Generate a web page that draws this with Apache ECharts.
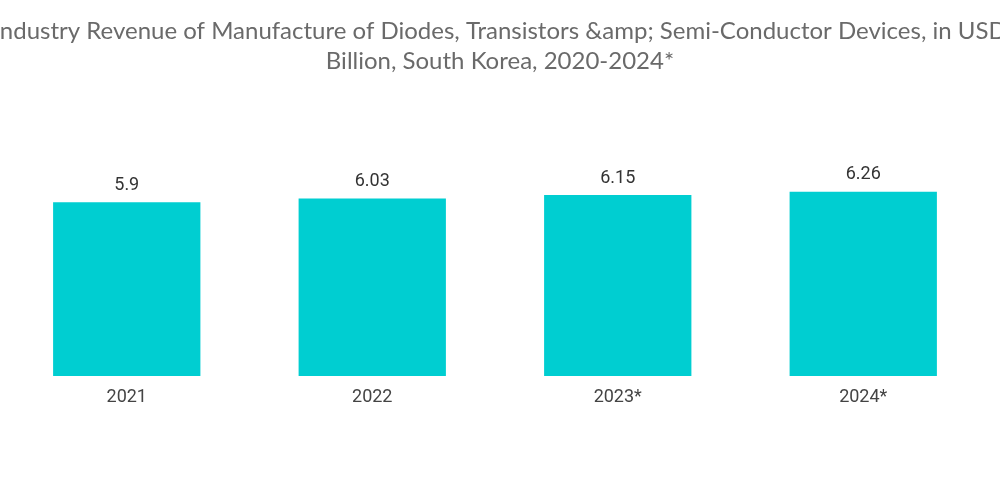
<!DOCTYPE html>
<html>
<head>
  <meta charset="utf-8">
  <title>South Korea semiconductor devices revenue</title>
  <script src="https://cdn.jsdelivr.net/npm/echarts@6/dist/echarts.min.js"></script>
  <style>
    body { margin: 0; padding: 0; background: #fff; }
    #main { width: 1000px; height: 504px; }
  </style>
</head>
<body>
  <div id="main"></div>
  <script>
    var years = ['2021', '2022', '2023*', '2024*'];
    var revenue = [5.9, 6.03, 6.15, 6.26];
    var titleLines = [
      'Industry Revenue of Manufacture of Diodes, Transistors &amp; Semi-Conductor Devices, in USD',
      'Billion, South Korea, 2020-2024*'
    ];

    var chart = echarts.init(document.getElementById('main'));
    chart.setOption({
      animation: false,
      title: {
        text: titleLines.join('\n'),
        left: 'center',
        top: 11,
        textStyle: {
          fontFamily: 'Lato',
          fontWeight: 'normal',
          fontSize: 24,
          lineHeight: 30,
          color: '#6a6a6a'
        }
      },
      grid: { left: 4, right: 14, top: 170, bottom: 128, containLabel: false },
      xAxis: {
        type: 'category',
        data: years,
        axisLine: { show: false },
        axisTick: { show: false },
        axisLabel: {
          margin: 12,
          fontFamily: 'Roboto',
          fontSize: 18,
          color: '#444'
        }
      },
      yAxis: {
        type: 'value',
        min: 0,
        max: 7,
        show: false,
        splitLine: { show: false }
      },
      series: [{
        type: 'bar',
        data: revenue,
        barCategoryGap: '40%',
        itemStyle: { color: '#00ced1' },
        label: {
          show: true,
          position: 'top',
          distance: 8,
          fontFamily: 'Roboto',
          fontSize: 18,
          color: '#333'
        }
      }]
    });
  </script>
</body>
</html>
